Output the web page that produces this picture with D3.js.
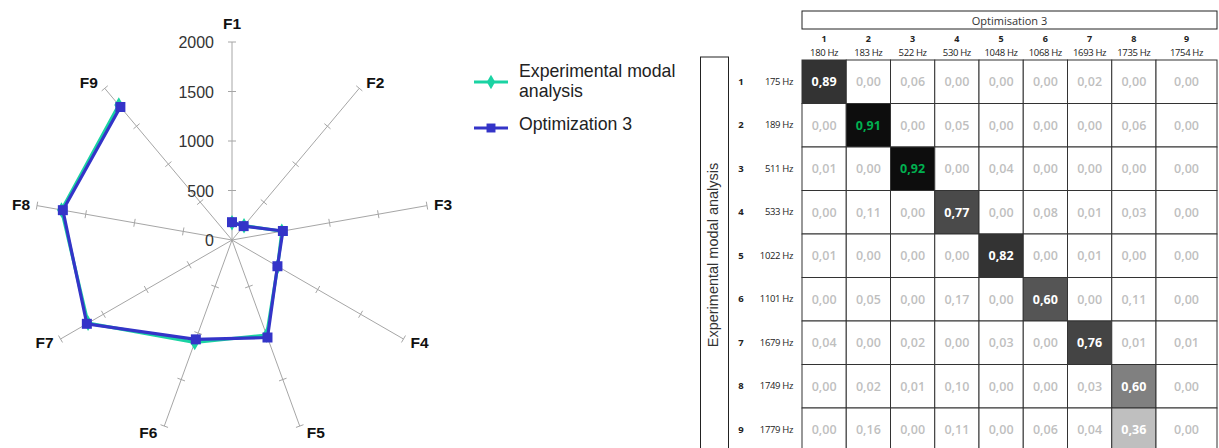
<!DOCTYPE html>
<html>
<head>
<meta charset="utf-8">
<script src="https://cdn.jsdelivr.net/npm/d3@7"></script>
<style>
  html, body { margin: 0; padding: 0; background: #fff; }
  svg { display: block; }
</style>
</head>
<body>
<div id="chart"></div>
<script>
/* ── Data ─────────────────────────────────────────────────────────── */
const axes       = ['F1', 'F2', 'F3', 'F4', 'F5', 'F6', 'F7', 'F8', 'F9'];
const radarTicks = [0, 500, 1000, 1500, 2000];
const expFreq    = [175, 189, 511, 533, 1022, 1101, 1679, 1749, 1779];
const optFreq    = [180, 183, 522, 530, 1048, 1068, 1693, 1735, 1754];
const seriesNames = ['Experimental modal analysis', 'Optimization 3'];

const colLabels = ['1', '2', '3', '4', '5', '6', '7', '8', '9'];
const rowLabels = ['1', '2', '3', '4', '5', '6', '7', '8', '9'];
const mac = [
  [0.89, 0.00, 0.06, 0.00, 0.00, 0.00, 0.02, 0.00, 0.00],
  [0.00, 0.91, 0.00, 0.05, 0.00, 0.00, 0.00, 0.06, 0.00],
  [0.01, 0.00, 0.92, 0.00, 0.04, 0.00, 0.00, 0.00, 0.00],
  [0.00, 0.11, 0.00, 0.77, 0.00, 0.08, 0.01, 0.03, 0.00],
  [0.01, 0.00, 0.00, 0.00, 0.82, 0.00, 0.01, 0.00, 0.00],
  [0.00, 0.05, 0.00, 0.17, 0.00, 0.60, 0.00, 0.11, 0.00],
  [0.04, 0.00, 0.02, 0.00, 0.03, 0.00, 0.76, 0.01, 0.01],
  [0.00, 0.02, 0.01, 0.10, 0.00, 0.00, 0.03, 0.60, 0.00],
  [0.00, 0.16, 0.00, 0.11, 0.00, 0.06, 0.04, 0.36, 0.00]
];

// fill of the best-matching cell in each row (conditional format of the source)
const matchFill = ['#333333', '#0d0d0d', '#0d0d0d', '#4a4a4a', '#333333',
                   '#555555', '#444444', '#808080', '#bfbfbf'];

const W = 1219, H = 448;
const COL_EXP = '#1ad3a3';
const COL_OPT = '#3434c8';

const svg = d3.select('#chart').append('svg')
  .attr('width', W).attr('height', H)
  .attr('viewBox', `0 0 ${W} ${H}`);

/* ── Radar ────────────────────────────────────────────────────────── */
const cx = 232, cy = 240, R = 198;
const r = d3.scaleLinear().domain([0, 2000]).range([0, R]);
const ang = d3.scalePoint().domain(axes).range([0, 2 * Math.PI * 8 / 9]);

const radar = svg.append('g').attr('transform', `translate(${cx},${cy})`);
const pt = (a, v) => [Math.sin(ang(a)) * r(v), -Math.cos(ang(a)) * r(v)];

axes.forEach(a => {
  const t = ang(a);
  const [x2, y2] = pt(a, 2000);
  radar.append('line')
    .attr('x1', 0).attr('y1', 0).attr('x2', x2).attr('y2', y2)
    .attr('stroke', '#a6a6a6').attr('stroke-width', 1);

  // perpendicular tick marks
  radarTicks.slice(1).forEach(v => {
    const [px, py] = pt(a, v);
    const nx = Math.cos(t) * 4, ny = Math.sin(t) * 4;
    radar.append('line')
      .attr('x1', px - nx).attr('y1', py - ny)
      .attr('x2', px + nx).attr('y2', py + ny)
      .attr('stroke', '#a6a6a6').attr('stroke-width', 1);
  });

  // category label sits just outside the axis end
  const s = Math.sin(t), c = Math.cos(t);
  const dx = s > 0.1 ? 16 : s < -0.1 ? -16 : 0;
  const dy = c > 0.9 ? -19 : -c * 7;
  radar.append('text')
    .attr('x', x2 + dx).attr('y', y2 + dy)
    .attr('text-anchor', 'middle')
    .attr('dominant-baseline', 'central')
    .attr('font-family', 'Liberation Sans, Arial, sans-serif')
    .attr('font-size', 15.5).attr('font-weight', 'bold')
    .attr('fill', '#111')
    .text(a);
});

radarTicks.forEach(v => {
  radar.append('text')
    .attr('x', -18).attr('y', -r(v) + 6)
    .attr('text-anchor', 'end')
    .attr('font-family', 'Liberation Sans, Arial, sans-serif')
    .attr('font-size', 16)
    .attr('fill', '#333')
    .text(v);
});

const line = d3.line();
const drawSeries = (vals, color, symbol, size) => {
  const pts = axes.map((a, i) => pt(a, vals[i]));
  radar.append('path').datum(pts)
    .attr('d', line)
    .attr('fill', 'none').attr('stroke', color)
    .attr('stroke-width', 3.2).attr('stroke-linejoin', 'round');
  radar.selectAll(null).data(pts).enter().append('path')
    .attr('transform', d => `translate(${d[0]},${d[1]})`)
    .attr('d', d3.symbol().type(symbol).size(size))
    .attr('fill', color);
};
drawSeries(expFreq, COL_EXP, d3.symbolDiamond, 70);
drawSeries(optFreq, COL_OPT, d3.symbolSquare, 100);

/* ── Legend ───────────────────────────────────────────────────────── */
const legend = svg.append('g').attr('font-family', 'Liberation Sans, Arial, sans-serif')
  .attr('font-size', 17.7).attr('fill', '#222');

legend.append('line').attr('x1', 474).attr('x2', 508).attr('y1', 82).attr('y2', 82)
  .attr('stroke', COL_EXP).attr('stroke-width', 3);
legend.append('path').attr('transform', 'translate(491,82)')
  .attr('d', d3.symbol().type(d3.symbolDiamond).size(60)).attr('fill', COL_EXP);
legend.append('text').attr('x', 519).attr('y', 77).text('Experimental modal');
legend.append('text').attr('x', 519).attr('y', 97).text('analysis');

legend.append('line').attr('x1', 474).attr('x2', 508).attr('y1', 128).attr('y2', 128)
  .attr('stroke', COL_OPT).attr('stroke-width', 3);
legend.append('path').attr('transform', 'translate(491,128)')
  .attr('d', d3.symbol().type(d3.symbolSquare).size(80)).attr('fill', COL_OPT);
legend.append('text').attr('x', 519).attr('y', 130).text(seriesNames[1]);

/* ── MAC matrix ───────────────────────────────────────────────────── */
const fmt = v => d3.format('.2f')(v).replace('.', ',');
const colX = d3.scaleLinear().domain([0, 8]).range([802, 1156]);
const colW = i => (i < 8 ? colX(i + 1) - colX(i) : 1217 - colX(8));
const rowY = d3.scaleLinear().domain([0, 9]).range([60, 451.5]);
const rowH = rowY(1) - rowY(0);

const tbl = svg.append('g').attr('font-family', 'Open Sans, Noto Sans, sans-serif');

// header box
tbl.append('rect').attr('x', 802).attr('y', 11).attr('width', 415).attr('height', 18)
  .attr('fill', 'none').attr('stroke', '#222').attr('stroke-width', 1);
tbl.append('text').attr('x', 1009.5).attr('y', 24.5).attr('text-anchor', 'middle')
  .attr('font-size', 11).attr('fill', '#333').text('Optimisation 3');

colLabels.forEach((c, i) => {
  const mx = colX(i) + colW(i) / 2;
  tbl.append('text').attr('x', mx).attr('y', 42).attr('text-anchor', 'middle')
    .attr('font-size', 9).attr('font-weight', 'bold').attr('fill', '#222').text(c);
  tbl.append('text').attr('x', mx).attr('y', 56).attr('text-anchor', 'middle')
    .attr('font-size', 9.5).attr('letter-spacing', -0.35).attr('fill', '#222')
    .text(optFreq[i] + ' Hz');
});

// y-label box
tbl.append('rect').attr('x', 700.5).attr('y', 57).attr('width', 28).attr('height', 420)
  .attr('fill', 'none').attr('stroke', '#222').attr('stroke-width', 1);
tbl.append('text')
  .attr('transform', 'translate(718,255) rotate(-90)')
  .attr('text-anchor', 'middle')
  .attr('font-family', 'Liberation Sans, Arial, sans-serif')
  .attr('font-size', 14.5).attr('fill', '#333')
  .text(seriesNames[0]);

rowLabels.forEach((rl, j) => {
  const my = rowY(j) + rowH / 2 + 3;
  tbl.append('text').attr('x', 741).attr('y', my).attr('text-anchor', 'middle')
    .attr('font-size', 9.5).attr('font-weight', 'bold').attr('fill', '#222').text(rl);
  tbl.append('text').attr('x', 793).attr('y', my).attr('text-anchor', 'end')
    .attr('font-size', 9.5).attr('letter-spacing', -0.35).attr('fill', '#222')
    .text(expFreq[j] + ' Hz');
});

const cells = [];
mac.forEach((row, j) => {
  const best = d3.maxIndex(row);
  row.forEach((v, i) => cells.push({ i, j, v, best: i === best }));
});

const cell = tbl.selectAll('g.cell').data(cells).enter().append('g').attr('class', 'cell');
cell.append('rect')
  .attr('x', d => colX(d.i)).attr('y', d => rowY(d.j))
  .attr('width', d => colW(d.i)).attr('height', rowH)
  .attr('fill', d => (d.best ? matchFill[d.j] : '#fff'))
  .attr('stroke', '#333').attr('stroke-width', 1);
cell.append('text')
  .attr('x', d => colX(d.i) + colW(d.i) / 2)
  .attr('y', d => rowY(d.j) + rowH / 2 + 4.5)
  .attr('text-anchor', 'middle')
  .attr('font-size', 12.5)
  .attr('font-weight', d => (d.best ? 700 : 600))
  .attr('fill', d => (d.best ? (d.v >= 0.9 ? '#00b050' : '#fff') : '#bfbfbf'))
  .text(d => fmt(d.v));
</script>
</body>
</html>
